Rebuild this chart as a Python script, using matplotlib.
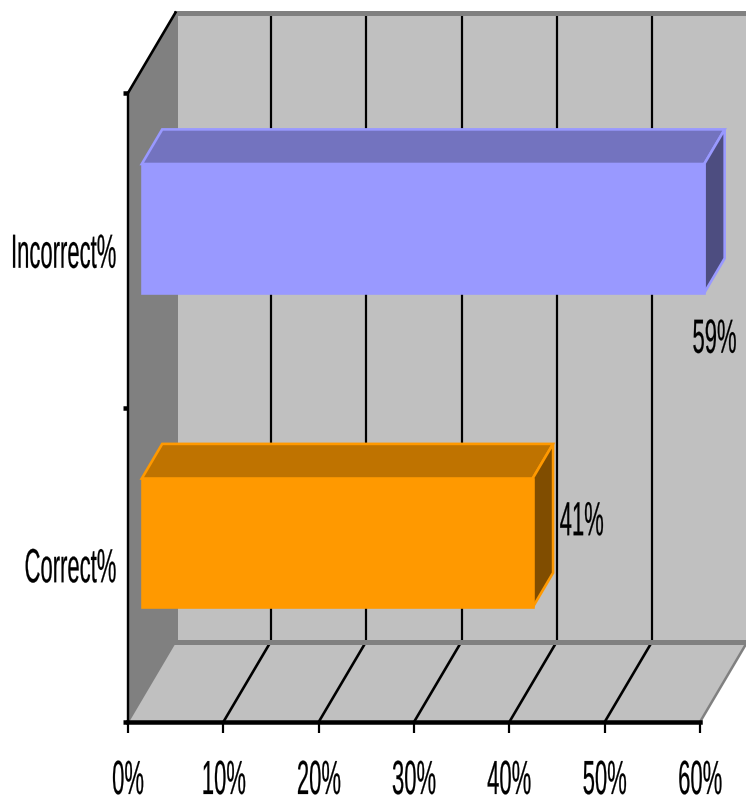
import matplotlib
matplotlib.use('Agg')
import matplotlib.pyplot as plt
import matplotlib.patheffects as pe
from matplotlib.patches import Polygon
from matplotlib.transforms import Affine2D

# --- data ---
categories = ['Correct%', 'Incorrect%']
values = [41, 59]
value_labels = ['41%', '59%']
x_ticks = [0, 10, 20, 30, 40, 50, 60]
x_tick_labels = ['0%', '10%', '20%', '30%', '40%', '50%', '60%']

# --- style ---
front_colors = ['#FF9900', '#9999FF']
top_colors = ['#BF7300', '#7373BF']
side_colors = ['#804D00', '#4D4D80']
label_offsets_px = [(63, 42), (24, -90)]
WALL = '#C0C0C0'
WALL_DARK = '#808080'
FONT = 'Liberation Sans'
FONT_SIZE = 34.5
NARROW = 0.46

# size of the 3D box, in data units
DEPTH_X = 47.5 / 9.533
DEPTH_Y = 80.5 / 314.5
BAR_NEAR = 0.29
BAR_FAR = 0.72
BAR_HEIGHT = 0.41
BAR_CENTER = 0.495


class Condensed(pe.AbstractPathEffect):
    # squeezes a text horizontally around one point of its width
    def __init__(self, scale, anchor=0.5):
        super().__init__()
        self.scale = scale
        self.anchor = anchor

    def draw_path(self, renderer, gc, tpath, affine, rgbFace=None):
        ext = tpath.get_extents()
        ref = ext.x0 + ext.width * self.anchor
        squeeze = Affine2D().translate(-ref, 0).scale(self.scale, 1).translate(ref, 0)
        gc.set_linewidth(0.15)
        gc.set_foreground('black')
        renderer.draw_path(gc, tpath, squeeze + affine, rgbFace)


def project(value, cat, depth):
    # data position of a point pushed back into the box
    return value + depth * DEPTH_X, cat + depth * DEPTH_Y


def poly(ax, points, color, z, edge=None, lw=0):
    ax.add_patch(Polygon(points, closed=True, facecolor=color, edgecolor=edge or color,
                         linewidth=lw, joinstyle='miter', clip_on=False, zorder=z))


def px(width):
    # line width in points from a width in pixels
    return width * 0.72


fig = plt.figure(figsize=(7.46, 8.0), dpi=100)
ax = fig.add_axes([128 / 746, 1 - 722 / 800, 572 / 746, 629 / 800])
ax.patch.set_visible(False)
ax.set_xlim(0, 60)
ax.set_ylim(0, 2)
ax.set_autoscale_on(False)

xmax = x_ticks[-1]

# side wall, back wall, floor
poly(ax, [project(0, 0, 0), project(0, 2, 0), project(0, 2, 1), project(0, 0, 1)], WALL_DARK, 1)
poly(ax, [project(0, 0, 1), project(0, 2, 1), project(xmax, 2, 1), project(xmax, 0, 1)], WALL, 1)
poly(ax, [project(0, 0, 0), project(0, 0, 1), project(xmax, 0, 1), project(xmax, 0, 0)], WALL, 1)

# gridlines on the back wall and on the floor
for t in x_ticks[1:-1]:
    ax.plot(*zip(project(t, 0, 1), project(t, 2, 1)), color='black', lw=px(2.2), clip_on=False, zorder=1.5)
    ax.plot(*zip(project(t, 0, 0), project(t, 0, 1)), color='black', lw=px(2.6), clip_on=False, zorder=1.5)

# grey edges of the box
ax.plot(*zip(project(0, 2, 1), project(xmax, 2, 1)), color=WALL_DARK, lw=px(5), clip_on=False, zorder=1.8)
ax.plot(*zip(project(0, 0, 1), project(xmax, 0, 1)), color=WALL_DARK, lw=px(5), clip_on=False, zorder=1.8)
ax.plot(*zip(project(0, 0, 1), project(0, 2, 1)), color=WALL_DARK, lw=px(3), clip_on=False, zorder=1.8)
ax.plot(*zip(project(0, 0, 0), project(0, 0, 1)), color=WALL_DARK, lw=px(2), clip_on=False, zorder=1.8)
ax.plot(*zip(project(xmax, 0, 0), project(xmax, 0, 1)), color=WALL_DARK, lw=px(2.5), clip_on=False, zorder=1.8)

# black edge running back from the top of the value axis
ax.plot(*zip(project(0, 2, 0), project(0, 2, 1)), color='black', lw=px(2.6), clip_on=False, zorder=2)

# bars
for i, (val, front, top, side) in enumerate(zip(values, front_colors, top_colors, side_colors)):
    low = i + BAR_CENTER - BAR_HEIGHT / 2
    high = i + BAR_CENTER + BAR_HEIGHT / 2
    poly(ax, [project(0, high, BAR_NEAR), project(0, high, BAR_FAR),
              project(val, high, BAR_FAR), project(val, high, BAR_NEAR)], top, 3, front, px(2.6))
    poly(ax, [project(val, low, BAR_NEAR), project(val, high, BAR_NEAR),
              project(val, high, BAR_FAR), project(val, low, BAR_FAR)], side, 3, front, px(2.6))
    start, base = project(0, low, BAR_NEAR)
    ax.barh(base, val, height=BAR_HEIGHT, left=start, align='edge', color=front, edgecolor=front,
            linewidth=px(2.6), clip_on=False, zorder=3.2)

    txt = ax.annotate(value_labels[i], xy=(val, i + 0.5), xycoords='data',
                      xytext=(label_offsets_px[i][0] * 0.72, label_offsets_px[i][1] * 0.72),
                      textcoords='offset points', ha='center', va='center',
                      family=FONT, fontsize=FONT_SIZE, color='black', zorder=4)
    txt.set_path_effects([Condensed(NARROW)])

# axes: only the left and bottom spines are shown
for name in ['top', 'right']:
    ax.spines[name].set_visible(False)
ax.spines['left'].set_linewidth(px(2.4))
ax.spines['bottom'].set_linewidth(px(4.5))

ax.set_xticks(x_ticks, x_tick_labels, family=FONT, fontsize=FONT_SIZE)
ax.set_yticks([0, 1, 2], ['', '', ''])
ax.set_yticks([0.5, 1.5], categories, minor=True, family=FONT, fontsize=FONT_SIZE)
ax.tick_params(axis='x', length=px(11), width=px(2.2), pad=px(26))
ax.tick_params(axis='y', which='major', length=px(5), width=px(4.5))
ax.tick_params(axis='y', which='minor', length=0, pad=px(11))

for lab in ax.get_xticklabels():
    lab.set_path_effects([Condensed(NARROW)])
for lab in ax.get_yticklabels(minor=True):
    lab.set_path_effects([Condensed(NARROW, anchor=1.0)])

fig.savefig('out.png', dpi=100)
plt.close(fig)
